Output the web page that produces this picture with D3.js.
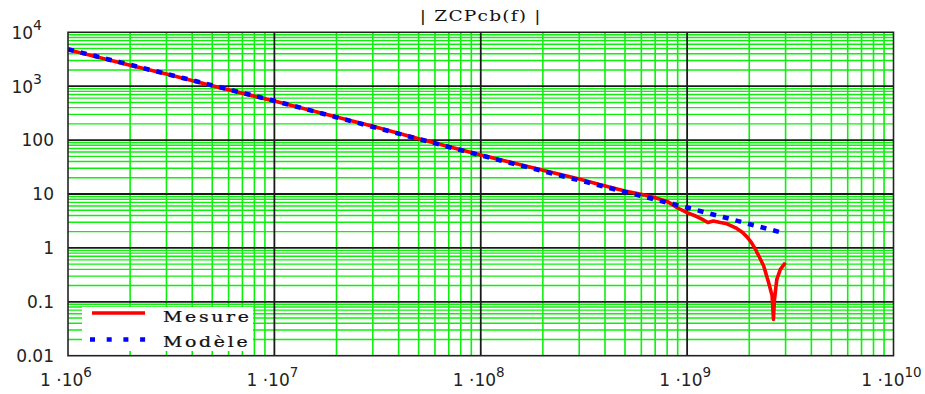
<!DOCTYPE html>
<html><head><meta charset="utf-8">
<script src="https://cdn.jsdelivr.net/npm/d3@7"></script>
<style>body{margin:0;background:#fff}</style>
</head><body><svg id="c" width="925" height="394"></svg>
<script>
const title = "| ZCPcb(f) |";
const seriesNames = ["Mesure", "Modèle"];

// Measured |Z| (Mesure)
const measF = [1e6, 2e6, 3e6, 5e6, 1e7, 2e7, 3e7, 5e7, 1e8, 2e8, 3e8, 3.8e8, 5e8, 6.15e8, 7e8, 8e8, 9e8,
  1e9, 1.1e9, 1.2e9, 1.26e9, 1.34e9, 1.45e9, 1.56e9, 1.74e9, 1.85e9, 1.95e9, 2.05e9, 2.14e9, 2.25e9, 2.35e9,
  2.48e9, 2.58e9, 2.62e9, 2.65e9, 2.72e9, 2.83e9, 2.99e9];
const measV = [4750, 2460, 1680, 1020, 530, 268, 180, 106, 53, 27.5, 19, 14.9, 11.4, 9.7, 8.5, 7.3, 5.5,
  4.5, 3.9, 3.3, 2.95, 3.15, 2.95, 2.8, 2.3, 1.95, 1.6, 1.25, 0.95, 0.65, 0.46,
  0.23, 0.13, 0.047, 0.11, 0.26, 0.40, 0.53];

// Model |Z| (Modèle)
const modelF = [1e6, 1e7, 1e8, 1e9, 3e9];
const modelV = [4840, 535, 52, 5.6, 1.84];

const xTicks = [1e6, 1e7, 1e8, 1e9, 1e10];
const xTickExp = ["6", "7", "8", "9", "10"];
const yTicks = [1e4, 1e3, 100, 10, 1, 0.1, 0.01];
const yTickBase = ["10", "10", "100", "10", "1", "0.1", "0.01"];
const yTickExp = ["4", "3", "", "", "", "", ""];

const L = 68, R = 893.5, T = 32.3, B = 355.7;
const svg = d3.select("#c");
const x = d3.scaleLog().domain([1e6, 1e10]).range([L, R]);
const y = d3.scaleLog().domain([0.01, 1e4]).range([B, T]);

// minor grid values
const xMinor = [], yMinor = [];
for (let e = 6; e < 10; e++) for (let m = 2; m <= 9; m++) xMinor.push(m * Math.pow(10, e));
for (let e = -2; e < 4; e++) for (let m = 2; m <= 9; m++) yMinor.push(+(m * Math.pow(10, e)).toPrecision(3));

const g = svg.append("g");
g.selectAll(".vx").data(xMinor).enter().append("line")
  .attr("x1", d => x(d)).attr("x2", d => x(d)).attr("y1", T).attr("y2", B)
  .attr("stroke", "#0cf00c").attr("stroke-width", 1.6);
g.selectAll(".hy").data(yMinor).enter().append("line")
  .attr("y1", d => y(d)).attr("y2", d => y(d)).attr("x1", L).attr("x2", R)
  .attr("stroke", "#0cf00c").attr("stroke-width", 1.4);
// major grid
g.selectAll(".mx").data(xTicks.slice(1, -1)).enter().append("line")
  .attr("x1", d => x(d)).attr("x2", d => x(d)).attr("y1", T).attr("y2", B)
  .attr("stroke", "#1a1a1a").attr("stroke-width", 1.8);
g.selectAll(".my").data(yTicks.slice(1, -1)).enter().append("line")
  .attr("y1", d => y(d)).attr("y2", d => y(d)).attr("x1", L).attr("x2", R)
  .attr("stroke", "#1a1a1a").attr("stroke-width", 1.8);

svg.append("clipPath").attr("id", "clip").append("rect")
  .attr("x", L).attr("y", T).attr("width", R - L).attr("height", B - T);

const line = d3.line().x(d => x(d[0])).y(d => y(d[1]));
svg.append("path").datum(measF.map((f, i) => [f, measV[i]]))
  .attr("d", line).attr("fill", "none").attr("stroke", "#ff0000")
  .attr("stroke-width", 3.6).attr("stroke-linejoin", "round").attr("clip-path", "url(#clip)");
svg.append("path").datum(modelF.map((f, i) => [f, modelV[i]]))
  .attr("d", line).attr("fill", "none").attr("stroke", "#0000ff")
  .attr("stroke-width", 4.6).attr("stroke-dasharray", "6 7").attr("clip-path", "url(#clip)");

// legend
const lg = svg.append("g");
lg.append("rect").attr("x", 82).attr("y", 307).attr("width", 171).attr("height", 44).attr("fill", "#fff");
lg.append("line").attr("x1", 92).attr("x2", 145).attr("y1", 313).attr("y2", 313)
  .attr("stroke", "#ff0000").attr("stroke-width", 3.4);
lg.append("line").attr("x1", 90).attr("x2", 146).attr("y1", 339.5).attr("y2", 339.5)
  .attr("stroke", "#0000ff").attr("stroke-width", 4.4).attr("stroke-dasharray", "5 11.7");
[[seriesNames[0], 322], [seriesNames[1], 346.5]].forEach(([t, yy]) => {
  lg.append("text").attr("transform", `translate(163,${yy}) scale(1.22,1)`)
    .attr("font-family", "DejaVu Serif").attr("font-size", 15.5).attr("letter-spacing", 2.2)
    .attr("fill", "#111").attr("stroke", "#111").attr("stroke-width", 0.25).text(t);
});

// border
svg.append("rect").attr("x", L).attr("y", T).attr("width", R - L).attr("height", B - T)
  .attr("fill", "none").attr("stroke", "#222").attr("stroke-width", 1.6);

// title
svg.append("text").attr("transform", `translate(${(L + R) / 2},20.7) scale(1.2,1)`)
  .attr("text-anchor", "middle").attr("font-family", "DejaVu Serif").attr("font-size", 15.5)
  .attr("letter-spacing", 1).attr("fill", "#111").text(title);

// y tick labels
yTicks.forEach((v, i) => {
  const t = svg.append("text").attr("font-family", "DejaVu Sans").attr("font-size", 17)
    .attr("fill", "#222").attr("text-anchor", "end")
    .attr("x", yTickExp[i] ? 42 : 54).attr("y", y(v) + 6.3);
  t.append("tspan").text(yTickBase[i]);
  if (yTickExp[i]) t.append("tspan").attr("font-size", 14).attr("dy", -9).text(yTickExp[i]);
});

// x tick labels
xTicks.forEach((v, i) => {
  const t = svg.append("text").attr("font-family", "DejaVu Sans").attr("font-size", 17)
    .attr("fill", "#222").attr("text-anchor", "middle")
    .attr("x", x(v) - 2).attr("y", 386);
  t.append("tspan").text("1 ·10");
  t.append("tspan").attr("font-size", 13.5).attr("dy", -9).text(xTickExp[i]);
});
</script></body></html>
